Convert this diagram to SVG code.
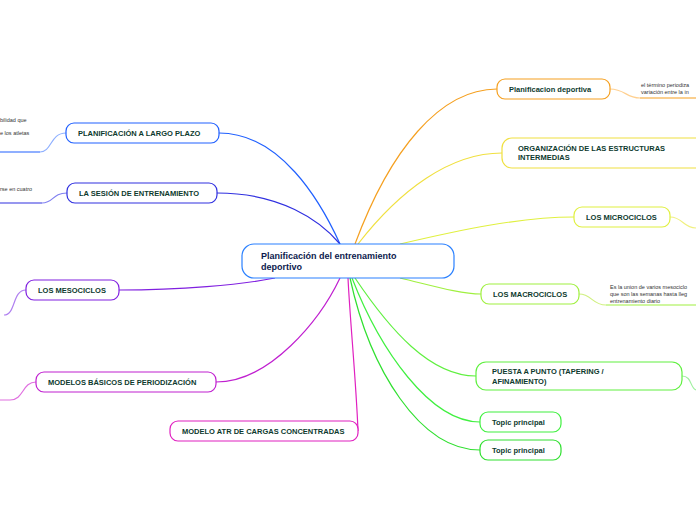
<svg xmlns="http://www.w3.org/2000/svg" width="696" height="520" viewBox="0 0 696 520">
<style>
.n{fill:#fff;stroke-width:1.2}
.t{font-family:"Liberation Sans",Arial,sans-serif;font-size:7.5px;font-weight:bold;fill:#0d3a2e}
.s{font-family:"Liberation Sans",Arial,sans-serif;font-size:5.5px;fill:#333}
.c{fill:none;stroke-width:1.2}
</style>
<rect width="696" height="520" fill="#fff"/>
<g id="connectors">
<path class="c" stroke="#2060ff" d="M219,133 C280,133 320,200 340,244"/>
<path class="c" stroke="#3030e0" stroke-width="2" d="M217,193 C280,193 320,220 340,244"/>
<path class="c" stroke="#8020e0" d="M119,290 C180,290 240,285 275,278"/>
<path class="c" stroke="#c020d0" d="M216,382 C270,382 320,320 340,278"/>
<path class="c" stroke="#e020c0" d="M358,431 C356,380 350,320 348,278"/>
<path class="c" stroke="#f5a020" stroke-width="2" d="M355,244 C390,150 440,89 497,89"/>
<path class="c" stroke="#f0e040" d="M358,244 C400,190 450,153 502,153"/>
<path class="c" stroke="#e0f040" d="M400,244 C460,230 520,217 574,217"/>
<path class="c" stroke="#a0f040" d="M400,278 C430,285 460,294 481,294"/>
<path class="c" stroke="#60f040" d="M355,278 C390,330 430,376 476,376"/>
<path class="c" stroke="#40f040" d="M352,278 C380,350 430,422 480,422"/>
<path class="c" stroke="#30e030" d="M350,278 C370,370 420,450 480,450"/>
<path class="c" stroke="#8fb0ff" d="M66,133 C50,133 52,152 40,152"/>
<path class="c" stroke="#2060ff" stroke-width="1.5" d="M40,152 L0,152"/>
<path class="c" stroke="#8080f0" d="M67,193 C52,193 54,203 42,203"/>
<path class="c" stroke="#3030e0" stroke-width="1.5" d="M42,203 L0,203"/>
<path class="c" stroke="#b080f0" d="M26,290 C12,290 16,315 4,315"/>
<path class="c" stroke="#e070e0" d="M36,382 C22,382 24,400 10,400 L0,400"/>
<path class="c" stroke="#ffd090" d="M610,89 C625,89 626,98 640,98"/>
<path class="c" stroke="#f5a020" stroke-width="1.5" d="M640,98 L696,98"/>
<path class="c" stroke="#f0f080" d="M670,217 C683,217 683,228 696,228"/>
<path class="c" stroke="#d0f080" d="M579,294 C592,294 592,305 606,305"/>
<path class="c" stroke="#a0f040" stroke-width="1.5" d="M606,305 L696,305"/>
<path class="c" stroke="#a0f0a0" d="M682,376 C692,376 690,388 696,390"/>
</g>
<g id="center"><rect class="n" x="242" y="244" width="212" height="34" rx="12" stroke="#2a80ff"/>
<text class="t" x="261" y="259" style="font-size:9px;fill:#0d1a4e">Planificación del entrenamiento</text><text class="t" x="261" y="270" style="font-size:9px;fill:#0d1a4e">deportivo</text></g>
<g id="n1"><rect class="n" x="66" y="123" width="153" height="20" rx="8" stroke="#2060ff"/><text class="t" x="78" y="136">PLANIFICACIÓN A LARGO PLAZO</text>
<text class="s" x="0" y="122">bilidad que</text><text class="s" x="0" y="135">e los atletas</text></g>
<g id="n2"><rect class="n" x="67" y="183" width="150" height="20" rx="8" stroke="#3030e0"/><text class="t" x="79" y="196">LA SESIÓN DE ENTRENAMIENTO</text>
<text class="s" x="0" y="191">rse en cuatro</text></g>
<g id="n3"><rect class="n" x="26" y="280" width="93" height="20" rx="8" stroke="#8020e0"/><text class="t" x="38" y="293">LOS MESOCICLOS</text></g>
<g id="n4"><rect class="n" x="36" y="372" width="180" height="20" rx="8" stroke="#c020d0"/><text class="t" x="48" y="385">MODELOS BÁSICOS DE PERIODIZACIÓN</text></g>
<g id="n5"><rect class="n" x="170" y="421" width="188" height="20" rx="8" stroke="#e020c0"/><text class="t" x="182" y="434">MODELO ATR DE CARGAS CONCENTRADAS</text></g>
<g id="n6"><rect class="n" x="497" y="79" width="113" height="20" rx="8" stroke="#f5a020"/><text class="t" x="509" y="92">Planificacion deportiva</text>
<text class="s" x="641" y="87">el término periodiza</text><text class="s" x="641" y="94">variación entre la in</text></g>
<g id="n7"><rect class="n" x="502" y="138" width="210" height="30" rx="10" stroke="#f0e040"/><text class="t" x="518" y="151">ORGANIZACIÓN DE LAS ESTRUCTURAS</text><text class="t" x="518" y="160">INTERMEDIAS</text></g>
<g id="n8"><rect class="n" x="574" y="207" width="96" height="20" rx="8" stroke="#e0f040"/><text class="t" x="586" y="220">LOS MICROCICLOS</text></g>
<g id="n9"><rect class="n" x="481" y="284" width="98" height="20" rx="8" stroke="#a0f040"/><text class="t" x="493" y="297">LOS MACROCICLOS</text>
<text class="s" x="610" y="289">Es la union de varios mesociclo</text><text class="s" x="610" y="296">que son las semanas hasta lleg</text><text class="s" x="610" y="303">entrenamiento diario</text></g>
<g id="n10"><rect class="n" x="476" y="362" width="206" height="28" rx="10" stroke="#60f040"/><text class="t" x="492" y="374">PUESTA A PUNTO (TAPERING /</text><text class="t" x="492" y="384">AFINAMIENTO)</text></g>
<g id="n11"><rect class="n" x="480" y="412" width="81" height="20" rx="8" stroke="#40f040"/><text class="t" x="492" y="425">Topic principal</text></g>
<g id="n12"><rect class="n" x="480" y="440" width="81" height="20" rx="8" stroke="#30e030"/><text class="t" x="492" y="453">Topic principal</text></g>
</svg>
